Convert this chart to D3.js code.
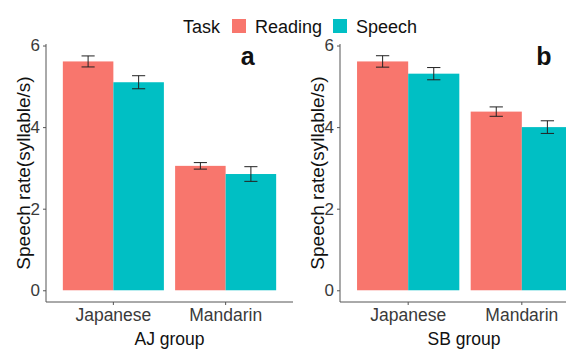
<!DOCTYPE html>
<html>
<head>
<meta charset="utf-8">
<script src="https://cdn.jsdelivr.net/npm/d3@7"></script>
<style>
  html, body { margin: 0; padding: 0; background: #fff; overflow: hidden; }
  svg { display: block; font-family: "Liberation Sans", Arial, sans-serif; }
</style>
</head>
<body>
<svg id="chart" width="566" height="349"></svg>
<script>
// Speech rate by language and task, two listener groups
const languages = ["Japanese", "Mandarin"];
const tasks = ["Reading", "Speech"];
const taskColors = ["#F8766D", "#00BFC4"];
const yTicks = [0, 2, 4, 6];

// AJ group: means and error half-widths (Japanese, Mandarin)
const ajReading = [5.61, 3.05];
const ajSpeech = [5.10, 2.85];
const ajReadingErr = [0.135, 0.08];
const ajSpeechErr = [0.16, 0.18];

// SB group
const sbReading = [5.61, 4.38];
const sbSpeech = [5.31, 4.00];
const sbReadingErr = [0.14, 0.115];
const sbSpeechErr = [0.15, 0.155];

const panels = [
  { title: "AJ group", tag: "a", reading: ajReading, speech: ajSpeech, readingErr: ajReadingErr, speechErr: ajSpeechErr, x0: 46, x1: 293 },
  { title: "SB group", tag: "b", reading: sbReading, speech: sbSpeech, readingErr: sbReadingErr, speechErr: sbSpeechErr, x0: 340, x1: 590 }
];

const svg = d3.select("#chart");
const plotTop = 44, plotBottom = 302;
const axisColor = "#555";
const tickText = "#3a3a3a";

const y = d3.scaleLinear().domain([-0.2875, 6.0375]).range([plotBottom, plotTop]);

panels.forEach(p => {
  const g = svg.append("g");
  const x = d3.scaleBand().domain(languages).range([p.x0, p.x1])
    .paddingInner(0.1).paddingOuter(0.15);
  const xs = d3.scaleBand().domain(tasks).range([0, x.bandwidth()]).padding(0);

  const rows = [];
  languages.forEach((lang, i) => {
    rows.push({ lang, task: "Reading", v: p.reading[i], e: p.readingErr[i] });
    rows.push({ lang, task: "Speech", v: p.speech[i], e: p.speechErr[i] });
  });

  const color = d3.scaleOrdinal().domain(tasks).range(taskColors);

  g.selectAll("rect.bar").data(rows).join("rect")
    .attr("class", "bar")
    .attr("x", d => x(d.lang) + xs(d.task))
    .attr("width", xs.bandwidth())
    .attr("y", d => y(d.v))
    .attr("height", d => y(0) - y(d.v))
    .attr("fill", d => color(d.task));

  // error bars
  const capW = xs.bandwidth() * 0.26;
  const cx = d => x(d.lang) + xs(d.task) + xs.bandwidth() / 2;
  const eb = g.selectAll("g.err").data(rows).join("g").attr("class", "err")
    .attr("stroke", "#222").attr("stroke-width", 1).attr("fill", "none");
  eb.append("line")
    .attr("x1", cx).attr("x2", cx)
    .attr("y1", d => y(d.v + d.e)).attr("y2", d => y(d.v - d.e));
  eb.append("line")
    .attr("x1", d => cx(d) - capW / 2).attr("x2", d => cx(d) + capW / 2)
    .attr("y1", d => y(d.v + d.e)).attr("y2", d => y(d.v + d.e));
  eb.append("line")
    .attr("x1", d => cx(d) - capW / 2).attr("x2", d => cx(d) + capW / 2)
    .attr("y1", d => y(d.v - d.e)).attr("y2", d => y(d.v - d.e));

  // y axis
  const ya = g.append("g").attr("transform", `translate(${p.x0},0)`)
    .call(d3.axisLeft(y).tickValues(yTicks).tickSize(3).tickPadding(3).tickFormat(d3.format("d")));
  ya.select(".domain").attr("d", `M0,${plotTop}V${plotBottom}`).attr("stroke", axisColor);
  ya.selectAll(".tick line").attr("stroke", axisColor);
  ya.selectAll(".tick text").attr("fill", tickText).attr("font-size", 17).attr("font-family", null);

  // x axis
  const xa = g.append("g").attr("transform", `translate(0,${plotBottom})`)
    .call(d3.axisBottom(x).tickSize(3).tickPadding(4));
  xa.select(".domain").attr("d", `M${p.x0},0H${p.x1}`).attr("stroke", axisColor);
  xa.selectAll(".tick line").attr("stroke", axisColor);
  xa.selectAll(".tick text").attr("fill", tickText).attr("font-size", 17.5).attr("font-family", null);

  // axis titles
  g.append("text")
    .attr("transform", `translate(${p.x0 - 16.5},${(plotTop + plotBottom) / 2}) rotate(-90)`)
    .attr("text-anchor", "middle").attr("font-size", 19).attr("fill", "#111")
    .text("Speech rate(syllable/s)");
  g.append("text")
    .attr("x", (p.x0 + p.x1) / 2 - (p.tag === "b" ? 1 : 0)).attr("y", 344.5)
    .attr("text-anchor", "middle").attr("font-size", 17.5).attr("fill", "#111")
    .text(p.title);

  // panel tag
  g.append("text")
    .attr("x", x("Mandarin") + x.bandwidth() / 2 + 22).attr("y", 65)
    .attr("text-anchor", "middle").attr("font-size", 25).attr("font-weight", "bold")
    .attr("fill", "#111")
    .text(p.tag);
});

// legend
const legend = svg.append("g");
legend.append("text").attr("x", 183).attr("y", 33).attr("font-size", 18).attr("fill", "#111").text("Task");
const keyX = [232, 333];
tasks.forEach((t, i) => {
  legend.append("rect").attr("x", keyX[i]).attr("y", 19).attr("width", 14).attr("height", 14).attr("fill", taskColors[i]);
  legend.append("text").attr("x", keyX[i] + 23).attr("y", 33).attr("font-size", 18).attr("fill", "#111").text(t);
});
</script>
</body>
</html>
